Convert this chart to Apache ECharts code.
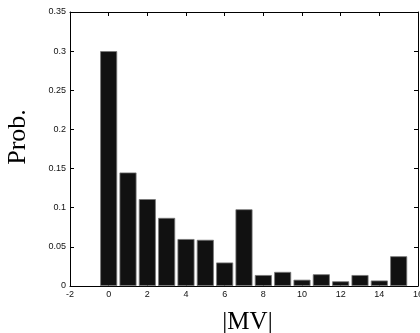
<!DOCTYPE html>
<html>
<head>
<meta charset="utf-8">
<script src="https://cdn.jsdelivr.net/npm/echarts@6/dist/echarts.min.js"></script>
<style>
  html, body { margin: 0; padding: 0; background: #fff; }
  #chart { width: 420px; height: 333px; }
</style>
</head>
<body>
<div id="chart"></div>
<script>
// |MV| histogram values
const mvValues = [0, 1, 2, 3, 4, 5, 6, 7, 8, 9, 10, 11, 12, 13, 14, 15]
const probs = [0.300, 0.145, 0.111, 0.087, 0.060, 0.059, 0.030, 0.098,
  0.014, 0.018, 0.008, 0.015, 0.006, 0.014, 0.007, 0.038]

const sans = '"Liberation Sans", Arial, sans-serif'
const serif = '"Liberation Serif", "Times New Roman", serif'

const boxAxis = {
  axisLine: { show: true, onZero: false, lineStyle: { color: '#000', width: 1 } },
  axisTick: { show: true, inside: true, length: 4, lineStyle: { color: '#000' } },
  splitLine: { show: false },
}

const chart = echarts.init(document.getElementById('chart'), null, { renderer: 'canvas' })
chart.setOption({
  animation: false,
  backgroundColor: '#fff',
  grid: { left: 70, right: 2, top: 12, bottom: 47, outerBoundsMode: 'none' },
  xAxis: [{
    type: 'value', min: -2, max: 16, interval: 2,
    ...boxAxis,
    axisLabel: { color: '#111', fontSize: 9, fontFamily: sans, margin: 4 },
    name: '|MV|', nameLocation: 'middle', nameGap: 24,
    nameTextStyle: { color: '#000', fontSize: 25, fontFamily: serif, padding: [0, 0, 0, 7] },
  }, {
    type: 'value', min: -2, max: 16, interval: 2, position: 'top',
    ...boxAxis,
    axisLabel: { show: false },
  }],
  yAxis: [{
    type: 'value', min: 0, max: 0.35, interval: 0.05,
    ...boxAxis,
    axisLabel: { color: '#111', fontSize: 9, fontFamily: sans, margin: 4 },
    name: 'Prob.', nameLocation: 'middle', nameGap: 39, nameRotate: 90,
    nameTextStyle: { color: '#000', fontSize: 26, fontFamily: serif, padding: [0, 0, 0, 24] },
  }, {
    type: 'value', min: 0, max: 0.35, interval: 0.05, position: 'right',
    ...boxAxis,
    axisLabel: { show: false },
  }],
  series: [{
    type: 'bar',
    barWidth: 17,
    data: mvValues.map((v, i) => [v, probs[i]]),
    itemStyle: { color: '#111', borderColor: '#777', borderWidth: 0.8 },
  }],
})
</script>
</body>
</html>
